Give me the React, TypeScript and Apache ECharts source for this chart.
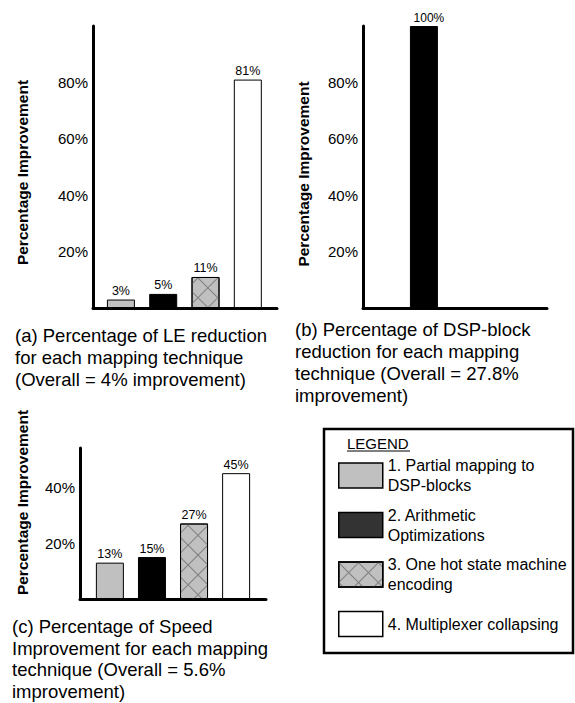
import React, { useEffect, useRef } from "react";
import * as echarts from "echarts";

// ---- data ----
const techniques = [
  "1. Partial mapping to\nDSP-blocks",
  "2. Arithmetic\nOptimizations",
  "3. One hot state machine\nencoding",
  "4. Multiplexer collapsing",
];
const techniqueIndex = [1, 2, 3, 4];
const leReduction = [3, 5, 11, 81];
const dspReduction: (number | null)[] = [null, 100, null, null];
const speedImprovement = [13, 15, 27, 45];
const yTickValues = [20, 40, 60, 80];
const yAxisTitle = "Percentage Improvement";
const legendTitle = "LEGEND";
const captions = [
  "(a) Percentage of LE reduction\nfor each mapping technique\n(Overall = 4% improvement)",
  "(b) Percentage of DSP-block\nreduction for each mapping\ntechnique (Overall = 27.8%\nimprovement)",
  "(c) Percentage of Speed\nImprovement for each mapping\ntechnique (Overall = 5.6%\nimprovement)",
];

const FONT = '"Liberation Sans", Arial, Helvetica, sans-serif';

const hatch = {
  symbol: "rect",
  symbolSize: 1,
  symbolKeepAspect: false,
  color: "#808080",
  backgroundColor: null,
  dashArrayX: [
    [14, 0],
    [1, 13],
  ],
  dashArrayY: [1, 0, 13, 0],
  rotation: Math.PI / 4,
};

const techStyles: any[] = [
  { color: "#c0c0c0", borderColor: "#000", borderWidth: 1 },
  { color: "#000", borderColor: "#000", borderWidth: 1 },
  { color: "#c0c0c0", borderColor: "#000", borderWidth: 1, decal: hatch },
  { color: "#fff", borderColor: "#000", borderWidth: 1 },
];

const panels = [
  {
    values: leReduction as (number | null)[],
    grid: { left: 93, top: 26, width: 184, height: 282 },
    xMin: 0.34,
    xMax: 4.69,
    yMax: 100,
    nameGap: 63,
    namePad: [0, 11, 0, 0],
    labelSize: 12.5,
    labelOffset: [0, 0],
  },
  {
    values: dspReduction,
    grid: { left: 363, top: 26, width: 184, height: 282 },
    xMin: 0.56,
    xMax: 4.91,
    yMax: 100,
    nameGap: 52,
    namePad: [0, 14, 0, 0],
    labelSize: 12,
    labelOffset: [5, 0],
  },
  {
    values: speedImprovement as (number | null)[],
    grid: { left: 80, top: 448, width: 186, height: 151 },
    xMin: 0.29,
    xMax: 4.71,
    yMax: 54,
    nameGap: 50,
    namePad: [0, 0, 0, 42],
    labelSize: 12.5,
    labelOffset: [0, 0],
  },
];

function buildOption() {
  const grids = panels.map((p) => ({ ...p.grid, containLabel: false }));
  const xAxes = panels.map((p, i) => ({
    type: "value",
    gridIndex: i,
    min: p.xMin,
    max: p.xMax,
    axisLine: { show: true, onZero: false, lineStyle: { color: "#000", width: 3 } },
    axisTick: { show: false },
    axisLabel: { show: false },
    splitLine: { show: false },
  }));
  const yAxes = panels.map((p, i) => ({
    type: "value",
    gridIndex: i,
    min: 0,
    max: p.yMax,
    interval: 20,
    name: yAxisTitle,
    nameLocation: "middle",
    nameGap: p.nameGap,
    nameTextStyle: {
      fontFamily: FONT,
      fontWeight: "bold",
      fontSize: 15.5,
      color: "#000",
      padding: p.namePad,
    },
    axisLine: { show: true, onZero: false, lineStyle: { color: "#000", width: 3 } },
    axisTick: { show: false },
    splitLine: { show: false },
    axisLabel: {
      fontFamily: FONT,
      fontSize: 15,
      color: "#000",
      margin: 5,
      formatter: (v: number) => (yTickValues.indexOf(v) >= 0 ? v + "%" : ""),
    },
  }));

  const series: any[] = [];
  panels.forEach((p, pi) => {
    techniques.forEach((name, ti) => {
      const v = p.values[ti];
      if (v == null) return;
      series.push({
        type: "bar",
        name,
        xAxisIndex: pi,
        yAxisIndex: pi,
        data: [[techniqueIndex[ti], v]],
        barWidth: 28,
        barGap: "-100%",
        itemStyle: techStyles[ti],
        label: {
          show: true,
          position: "top",
          distance: 2,
          offset: p.labelOffset,
          formatter: (d: any) => d.value[1] + "%",
          fontFamily: FONT,
          fontSize: p.labelSize,
          color: "#000",
        },
        emphasis: { disabled: true },
      });
    });
  });

  const legendData = techniques.map((name, ti) => {
    const item: any = { name };
    if (ti === 1) item.itemStyle = { color: "#333" };
    if (ti === 3)
      item.textStyle = { padding: [10, 0, 10, 0], backgroundColor: "transparent" };
    return item;
  });

  const graphic: any[] = [
    {
      type: "rect",
      shape: { x: 324, y: 429, width: 249, height: 224 },
      style: { fill: "none", stroke: "#000", lineWidth: 2.5 },
      silent: true,
    },
    {
      type: "text",
      style: {
        text: legendTitle,
        x: 347,
        y: 443,
        fontFamily: FONT,
        fontSize: 15,
        fill: "#000",
        textVerticalAlign: "middle",
      },
    },
    {
      type: "line",
      shape: { x1: 347, y1: 451, x2: 410, y2: 451 },
      style: { stroke: "#000", lineWidth: 1 },
    },
  ];
  const capPos = [
    [15, 324],
    [295, 318],
    [12, 616],
  ];
  captions.forEach((c, i) => {
    graphic.push({
      type: "text",
      style: {
        text: c,
        x: capPos[i][0],
        y: capPos[i][1],
        fontFamily: FONT,
        fontSize: 18.5,
        lineHeight: i === 2 ? 21.5 : 22,
        fill: "#000",
        textVerticalAlign: "top",
      },
    });
  });

  return {
    animation: false,
    backgroundColor: "#fff",
    grid: grids,
    xAxis: xAxes,
    yAxis: yAxes,
    series,
    legend: {
      orient: "vertical",
      left: 338,
      top: 455.5,
      padding: 0,
      itemGap: 9.5,
      itemWidth: 44,
      itemHeight: 25,
      icon: "rect",
      selectedMode: false,
      textStyle: { fontFamily: FONT, fontSize: 16, lineHeight: 20, color: "#000" },
      itemStyle: { borderColor: "#000", borderWidth: 1.5 },
      data: legendData,
    },
    graphic,
  };
}

export default function App() {
  const ref = useRef<HTMLDivElement>(null);
  useEffect(() => {
    if (!ref.current) return;
    const chart = echarts.init(ref.current, undefined, { renderer: "svg" });
    chart.setOption(buildOption() as any);
    return () => chart.dispose();
  }, []);
  return (
    <div
      ref={ref}
      style={{ position: "absolute", left: 0, top: 0, width: 575, height: 703 }}
    />
  );
}
